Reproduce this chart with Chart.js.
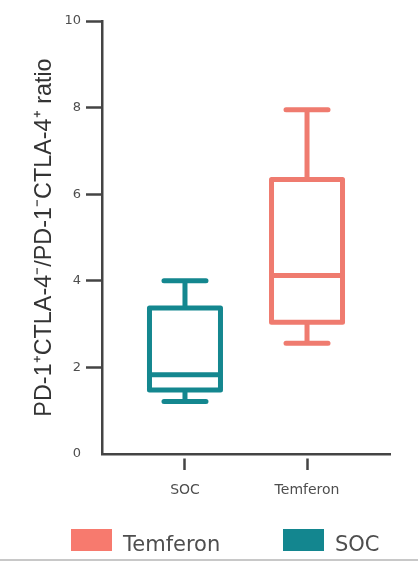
<!DOCTYPE html>
<html>
<head>
<meta charset="utf-8">
<script src="https://cdn.jsdelivr.net/npm/chart.js@4/dist/chart.umd.min.js"></script>
<style>
  body { margin: 0; background: #fff; }
  #wrap { width: 418px; height: 559px; border-bottom: 2px solid #c8c8c8; }
</style>
</head>
<body>
<div id="wrap"><canvas id="chart"></canvas></div>
<script>
// Box plot values
const categories = ["SOC", "Temferon"];
const whiskerLow = [1.21, 2.56];
const q1 = [1.48, 3.04];
const median = [1.83, 4.12];
const q3 = [3.37, 6.34];
const whiskerHigh = [4.0, 7.95];
const boxColors = ["#14878f", "#ef7b6f"];

const yTicks = [0, 2, 4, 6, 8, 10];

const legendLabels = ["Temferon", "SOC"];
const legendColors = ["#f77a6e", "#13868f"];

const axisColor = "#444";
const textColor = "#4e4e4e";

// draws boxes, medians and whiskers through the chart scales
const boxPlot = {
  id: "boxPlot",
  afterDatasetsDraw(chart) {
    const { ctx, scales: { x, y } } = chart;
    const half = 35.5, capHalf = 21;
    ctx.save();
    ctx.lineWidth = 5;
    ctx.lineJoin = "round";
    categories.forEach((c, i) => {
      const cx = x.getPixelForValue(i);
      const top = y.getPixelForValue(q3[i]);
      const bot = y.getPixelForValue(q1[i]);
      const med = y.getPixelForValue(median[i]);
      const hi = y.getPixelForValue(whiskerHigh[i]);
      const lo = y.getPixelForValue(whiskerLow[i]);
      ctx.strokeStyle = boxColors[i];

      ctx.lineCap = "butt";
      ctx.beginPath();
      ctx.moveTo(cx, top); ctx.lineTo(cx, hi);
      ctx.moveTo(cx, bot); ctx.lineTo(cx, lo);
      ctx.moveTo(cx - half, med); ctx.lineTo(cx + half, med);
      ctx.stroke();

      ctx.strokeRect(cx - half, top, half * 2, bot - top);

      ctx.lineCap = "round";
      ctx.beginPath();
      ctx.moveTo(cx - capHalf, hi); ctx.lineTo(cx + capHalf, hi);
      ctx.moveTo(cx - capHalf, lo); ctx.lineTo(cx + capHalf, lo);
      ctx.stroke();
    });
    ctx.restore();
  }
};

// simple legend under the axis
const bottomLegend = {
  id: "bottomLegend",
  afterDraw(chart) {
    const ctx = chart.ctx;
    const xs = [71, 283];
    const top = 529;
    ctx.save();
    ctx.font = "21px 'DejaVu Sans'";
    ctx.textBaseline = "alphabetic";
    ctx.textAlign = "left";
    legendLabels.forEach((label, i) => {
      ctx.fillStyle = legendColors[i];
      ctx.fillRect(xs[i], top, 41, 22);
      ctx.fillStyle = textColor;
      ctx.fillText(label, xs[i] + 52, top + 22);
    });
    ctx.restore();
  }
};

new Chart(document.getElementById("chart"), {
  type: "scatter",
  data: { datasets: [] },
  options: {
    responsive: true,
    maintainAspectRatio: false,
    animation: false,
    layout: { padding: { left: 10, right: 28, top: 21, bottom: 48 } },
    plugins: { legend: { display: false }, tooltip: { enabled: false } },
    scales: {
      x: {
        type: "linear",
        min: -0.68,
        max: 1.68,
        afterBuildTicks: s => { s.ticks = categories.map((c, i) => ({ value: i })); },
        afterFit: s => { s.height = 57; },
        ticks: {
          callback: v => categories[v],
          color: textColor,
          font: { family: "DejaVu Sans", size: 14 },
          padding: 12,
          maxRotation: 0
        },
        grid: {
          drawOnChartArea: false,
          tickLength: 16,
          tickWidth: 2.5,
          tickColor: axisColor,
          tickBorderDash: [0, 3, 13, 60]
        },
        border: { color: axisColor, width: 2.5 }
      },
      y: {
        min: 0,
        max: 10,
        afterBuildTicks: s => { s.ticks = yTicks.map(v => ({ value: v })); },
        afterFit: s => { s.width = 92; },
        ticks: {
          color: textColor,
          font: { family: "DejaVu Sans", size: 13 },
          padding: 5
        },
        grid: {
          drawOnChartArea: false,
          tickLength: 16,
          tickWidth: 2.5,
          tickColor: c => (c.tick && c.tick.value === 0 ? "rgba(0,0,0,0)" : axisColor)
        },
        border: { color: axisColor, width: 2.5 },
        title: {
          display: true,
          text: "PD-1\u207ACTLA-4\u207B/PD-1\u207BCTLA-4\u207A ratio",
          color: "#333",
          font: { family: "Liberation Sans", size: 23.4 },
          padding: { top: 21, bottom: 0 }
        }
      }
    }
  },
  plugins: [boxPlot, bottomLegend]
});
</script>
</body>
</html>
